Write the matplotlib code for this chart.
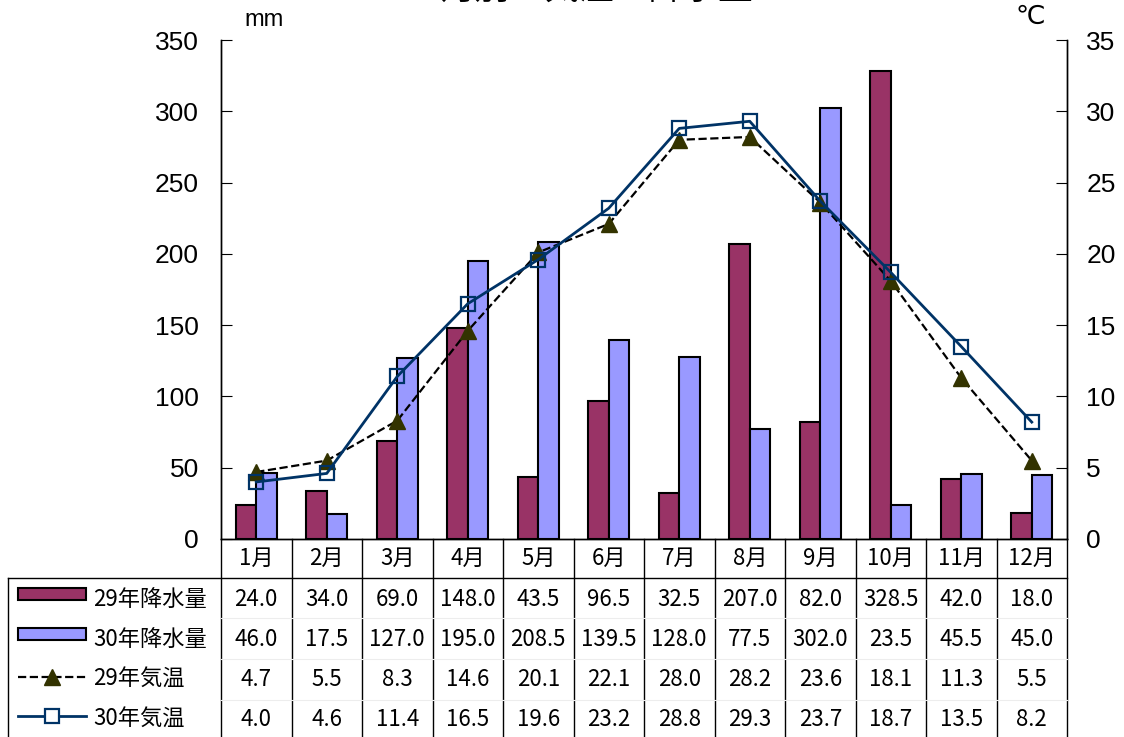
import numpy as np
import matplotlib
matplotlib.use("Agg")
from matplotlib import pyplot as plt
from matplotlib.patches import Rectangle
from matplotlib.lines import Line2D

plt.rcParams['font.family'] = ['Noto Sans CJK JP', 'DejaVu Sans']

months = ["1月", "2月", "3月", "4月", "5月", "6月", "7月", "8月", "9月", "10月", "11月", "12月"]
rain29 = [24.0, 34.0, 69.0, 148.0, 43.5, 96.5, 32.5, 207.0, 82.0, 328.5, 42.0, 18.0]
rain30 = [46.0, 17.5, 127.0, 195.0, 208.5, 139.5, 128.0, 77.5, 302.0, 23.5, 45.5, 45.0]
temp29 = [4.7, 5.5, 8.3, 14.6, 20.1, 22.1, 28.0, 28.2, 23.6, 18.1, 11.3, 5.5]
temp30 = [4.0, 4.6, 11.4, 16.5, 19.6, 23.2, 28.8, 29.3, 23.7, 18.7, 13.5, 8.2]
row_labels = ["29年降水量", "30年降水量", "29年気温", "30年気温"]

W, H = 1124, 737
fig = plt.figure(figsize=(W / 100, H / 100), dpi=100)


def fx(px):
    return px / W


def fy(py):
    return 1 - py / H


ax = fig.add_axes([fx(221), fy(539), fx(1067) - fx(221), fy(40) - fy(539)])
x = np.arange(12)
w = 0.29
ax.bar(x - w / 2, rain29, w, color='#993366', edgecolor='black', lw=1.5, zorder=2)
ax.bar(x + w / 2, rain30, w, color='#9999FF', edgecolor='black', lw=1.5, zorder=2)
ax.set_xlim(-0.5, 11.5)
ax.set_ylim(0, 350)
ax.set_yticks(range(0, 351, 50))
ax.set_xticks([])

ax2 = ax.twinx()
ax2.plot(x, temp29, ls='--', color='black', lw=1.6, marker='^', ms=11,
         mfc='#333300', mec='#333300')
ax2.plot(x, temp30, color='#003366', lw=2, marker='s', ms=10,
         mfc='none', mec='#003366', mew=1.6)
ax2.set_ylim(0, 35)
ax2.set_yticks(range(0, 36, 5))

for a in (ax, ax2):
    a.spines['top'].set_visible(False)
    for s in a.spines.values():
        s.set_linewidth(1)
ax.tick_params(axis='y', direction='in', length=8, pad=16, labelsize=19)
ax2.tick_params(axis='y', direction='in', length=8, pad=14, labelsize=19)
for lab in ax.get_yticklabels() + ax2.get_yticklabels():
    lab.set_family('Liberation Sans')

fig.text(fx(264), fy(20), "mm", ha='center', va='center', fontsize=17, family='Liberation Sans')
fig.text(fx(1030), fy(17), "℃", ha='center', va='center', fontsize=19, family='DejaVu Sans')
# title sits mostly above the top edge, as in the original
fig.text(fx(597), fy(-1.5), "月別の気温と降水量", ha='center', va='baseline', fontsize=25)

# table below the chart
col_w = (1067 - 221) / 12
for i in range(13):
    xp = 221 + i * col_w
    fig.add_artist(Line2D([fx(xp), fx(xp)], [fy(539), fy(737)], color='black', lw=1))
fig.add_artist(Line2D([fx(8), fx(8)], [fy(578), fy(737)], color='black', lw=1))
fig.add_artist(Line2D([fx(8), fx(1067)], [fy(578), fy(578)], color='black', lw=1))
for yp in (618, 659, 700):
    fig.add_artist(Line2D([fx(221), fx(1067)], [fy(yp), fy(yp)], color='#ededed', lw=0.8))

for i, m in enumerate(months):
    fig.text(fx(221 + (i + 0.5) * col_w), fy(558), m, ha='center', va='center', fontsize=16)

rows = [rain29, rain30, temp29, temp30]
row_y = [599, 639, 679, 719]
for vals, yp in zip(rows, row_y):
    for i, v in enumerate(vals):
        fig.text(fx(221 + (i + 0.5) * col_w), fy(yp), f"{v:.1f}", ha='center', va='center', fontsize=16)

# legend keys in the table
fig.add_artist(Rectangle((fx(18), fy(600)), fx(68), fy(588) - fy(600), facecolor='#993366',
                         edgecolor='black', lw=1.5))
fig.add_artist(Rectangle((fx(18), fy(640)), fx(68), fy(628) - fy(640), facecolor='#9999FF',
                         edgecolor='black', lw=1.5))
fig.add_artist(Line2D([fx(18), fx(86)], [fy(677), fy(677)], ls='--', color='black', lw=1.6))
fig.add_artist(Line2D([fx(52)], [fy(677)], marker='^', ms=11, mfc='#333300', mec='#333300', ls='none'))
fig.add_artist(Line2D([fx(18), fx(86)], [fy(716), fy(716)], color='#003366', lw=2))
fig.add_artist(Line2D([fx(52)], [fy(716)], marker='s', ms=10, mfc='white', mec='#003366', mew=1.6,
                      ls='none'))
for lab, yp in zip(row_labels, row_y):
    fig.text(fx(93), fy(yp), lab, ha='left', va='center', fontsize=16)

fig.savefig("out.png", dpi=100)
